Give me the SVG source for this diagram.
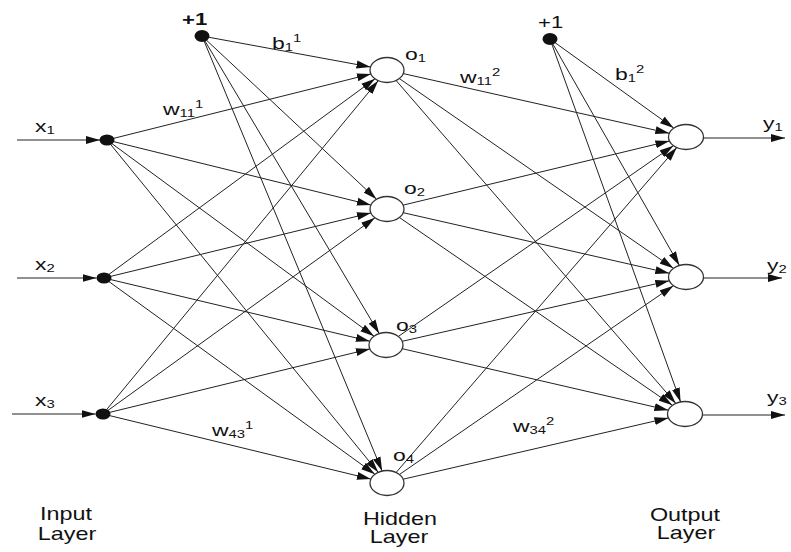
<svg xmlns="http://www.w3.org/2000/svg" width="791" height="552" viewBox="0 0 791 552">
<style>
.e{stroke:#222;stroke-width:1;fill:none;marker-end:url(#arr)}
.n{fill:#fff;stroke:#333;stroke-width:1.3}
.d{fill:#111}
.t{font-family:"Liberation Sans",Arial,sans-serif;font-size:17px;fill:#111}
.s{font-size:11px}
.b{font-weight:bold}
.L{font-family:"Liberation Sans",Arial,sans-serif;font-size:18px;fill:#111;text-anchor:middle}
</style>
<defs>
<marker id="arr" markerUnits="userSpaceOnUse" viewBox="0 0 15 9" markerWidth="15" markerHeight="9" refX="14" refY="4.5" orient="auto"><path d="M0,0.5 L14,4.5 L0,8.5 z" fill="#111"/></marker>
</defs>
<g id="connectors">
<!-- inputs in -->
<line class="e" x1="17" y1="140" x2="100" y2="140"/>
<line class="e" x1="17" y1="278" x2="96.5" y2="278"/>
<line class="e" x1="12" y1="414" x2="95.5" y2="414"/>
<!-- to H1 -->
<line class="e" x1="202" y1="36" x2="370.5" y2="67"/>
<line class="e" x1="107" y1="140" x2="370.9" y2="74"/>
<line class="e" x1="104" y1="278" x2="375" y2="78.8"/>
<line class="e" x1="103" y1="414" x2="378.2" y2="80.7"/>
<!-- to H2 -->
<line class="e" x1="202" y1="36" x2="376.5" y2="199.2"/>
<line class="e" x1="107" y1="140" x2="370.9" y2="205"/>
<line class="e" x1="104" y1="278" x2="370.9" y2="212.9"/>
<line class="e" x1="103" y1="414" x2="374.9" y2="217.8"/>
<!-- to H3 -->
<line class="e" x1="202" y1="36" x2="379.2" y2="333.6"/>
<line class="e" x1="107" y1="140" x2="374" y2="336.2"/>
<line class="e" x1="104" y1="278" x2="369.8" y2="341.2"/>
<line class="e" x1="103" y1="414" x2="369.9" y2="348.9"/>
<!-- to H4 -->
<line class="e" x1="202" y1="36" x2="382.1" y2="471"/>
<line class="e" x1="107" y1="140" x2="378.2" y2="472.3"/>
<line class="e" x1="104" y1="278" x2="374.9" y2="474.2"/>
<line class="e" x1="103" y1="414" x2="370.9" y2="479.1"/>
<!-- hidden to outputs -->
<line class="e" x1="403.3" y1="73.6" x2="669.3" y2="133.3"/>
<line class="e" x1="399.4" y1="78.6" x2="673.4" y2="268.3"/>
<line class="e" x1="396.1" y1="80.5" x2="675.8" y2="403.4"/>
<line class="e" x1="403.2" y1="205.1" x2="669.4" y2="141"/>
<line class="e" x1="403.2" y1="212.7" x2="669.3" y2="273.2"/>
<line class="e" x1="399.4" y1="217.5" x2="672.4" y2="405.3"/>
<line class="e" x1="398.4" y1="336.4" x2="673.4" y2="145.7"/>
<line class="e" x1="402.2" y1="341.3" x2="669.3" y2="280.8"/>
<line class="e" x1="402.2" y1="348.7" x2="668.4" y2="410.2"/>
<line class="e" x1="396.1" y1="472.5" x2="676.8" y2="147.6"/>
<line class="e" x1="399.4" y1="474.5" x2="673.4" y2="285.7"/>
<line class="e" x1="403.2" y1="479.2" x2="668.4" y2="417.9"/>
<!-- output bias -->
<line class="e" x1="550" y1="39" x2="673.7" y2="128.1"/>
<line class="e" x1="550" y1="39" x2="679.4" y2="265.4"/>
<line class="e" x1="550" y1="39" x2="680.6" y2="401.9"/>
<!-- outputs out -->
<line class="e" x1="703.5" y1="138" x2="785" y2="138"/>
<line class="e" x1="703.5" y1="278" x2="782" y2="278"/>
<line class="e" x1="702.5" y1="415" x2="785" y2="415"/>
</g>
<g id="edge-labels">
<text class="t" transform="translate(272,49) scale(1.35,1)">b<tspan class="s" dy="2">1</tspan><tspan class="s" dy="-9">1</tspan></text>
<text class="t" transform="translate(163,115) scale(1.35,1)">w<tspan class="s" dy="2">11</tspan><tspan class="s" dy="-9">1</tspan></text>
<text class="t" transform="translate(460,83) scale(1.35,1)">w<tspan class="s" dy="2">11</tspan><tspan class="s" dy="-9">2</tspan></text>
<text class="t" transform="translate(615,80) scale(1.35,1)">b<tspan class="s" dy="2">1</tspan><tspan class="s" dy="-9">2</tspan></text>
<text class="t" transform="translate(212,436) scale(1.35,1)">w<tspan class="s" dy="2">43</tspan><tspan class="s" dy="-9">1</tspan></text>
<text class="t" transform="translate(513,432) scale(1.35,1)">w<tspan class="s" dy="2">34</tspan><tspan class="s" dy="-9">2</tspan></text>
</g>
<g id="bias1"><ellipse class="d" cx="202" cy="36" rx="7.5" ry="6"/><text class="t b" transform="translate(182,25) scale(1.3,1)">+1</text></g>
<g id="bias2"><ellipse class="d" cx="550" cy="39" rx="7.5" ry="6"/><text class="t" transform="translate(538,28) scale(1.3,1)">+1</text></g>
<g id="x1"><ellipse class="d" cx="107" cy="140" rx="7.5" ry="5.5"/><text class="t" transform="translate(35,132) scale(1.35,1)">x<tspan class="s" dy="2">1</tspan></text></g>
<g id="x2"><ellipse class="d" cx="104" cy="278" rx="7.5" ry="5.5"/><text class="t" transform="translate(35,270) scale(1.35,1)">x<tspan class="s" dy="2">2</tspan></text></g>
<g id="x3"><ellipse class="d" cx="103" cy="414" rx="7.5" ry="5.5"/><text class="t" transform="translate(35,406) scale(1.35,1)">x<tspan class="s" dy="2">3</tspan></text></g>
<g id="h1"><ellipse class="n" cx="387" cy="70" rx="17" ry="12.5"/><text class="t" transform="translate(405,60) scale(1.35,1)">o<tspan class="s" dy="2">1</tspan></text></g>
<g id="h2"><ellipse class="n" cx="387" cy="209" rx="17" ry="12.5"/><text class="t" transform="translate(404,194) scale(1.35,1)">o<tspan class="s" dy="2">2</tspan></text></g>
<g id="h3"><ellipse class="n" cx="386" cy="345" rx="17" ry="12.5"/><text class="t" transform="translate(396,331) scale(1.35,1)">o<tspan class="s" dy="2">3</tspan></text></g>
<g id="h4"><ellipse class="n" cx="387" cy="483" rx="17" ry="12.5"/><text class="t" transform="translate(393,461) scale(1.35,1)">o<tspan class="s" dy="2">4</tspan></text></g>
<g id="y1"><ellipse class="n" cx="686" cy="137" rx="17.5" ry="12.5"/><text class="t" transform="translate(763,129) scale(1.35,1)">y<tspan class="s" dy="2">1</tspan></text></g>
<g id="y2"><ellipse class="n" cx="686" cy="277" rx="17.5" ry="12.5"/><text class="t" transform="translate(767,271) scale(1.35,1)">y<tspan class="s" dy="2">2</tspan></text></g>
<g id="y3"><ellipse class="n" cx="685" cy="414" rx="17.5" ry="12.5"/><text class="t" transform="translate(767,403) scale(1.35,1)">y<tspan class="s" dy="2">3</tspan></text></g>
<g id="layer-labels">
<text class="L" transform="translate(66,520) scale(1.3,1)">Input</text>
<text class="L" transform="translate(67,540) scale(1.3,1)">Layer</text>
<text class="L" transform="translate(400,525) scale(1.3,1)">Hidden</text>
<text class="L" transform="translate(399,543) scale(1.3,1)">Layer</text>
<text class="L" transform="translate(685,521) scale(1.3,1)">Output</text>
<text class="L" transform="translate(686,539) scale(1.3,1)">Layer</text>
</g>
</svg>
